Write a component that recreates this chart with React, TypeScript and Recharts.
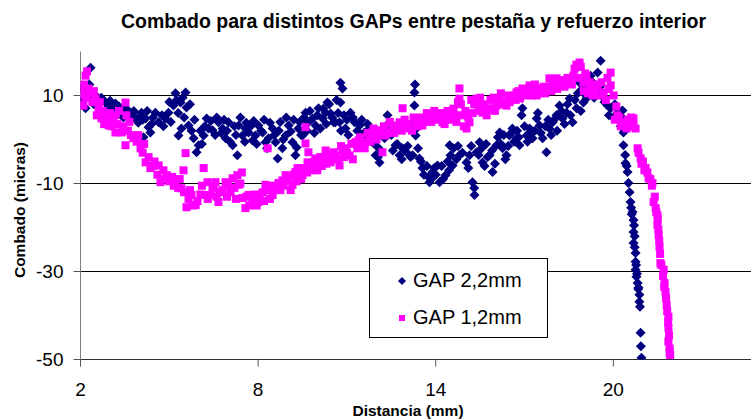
import { ScatterChart, Scatter, XAxis, YAxis, CartesianGrid } from 'recharts'

// GAP 2,2mm (navy diamonds): [distancia, combado]
const gap22: [number, number][] = [
  [2.34, 16.3], [2.03, 11.6], [2.17, 7.1], [2.37, 9.3], [2.61, 8.4], [2.84, 8.4], [3.05, 7.7], [3.18, 8.2], [3.28, 6.6], [3.39, 6.1],
  [3.62, 5.5], [3.86, 5.0], [4.06, 6.1], [4.2, 4.8], [4.3, 2.8], [4.13, 0.5], [4.36, 1.6], [4.53, 6.1], [4.64, 3.9], [4.87, 4.8],
  [4.97, 6.1], [5.14, 7.7], [5.21, 10.5], [5.38, 8.4], [5.55, 10.7], [5.58, 7.3], [5.31, 0.9], [5.41, 2.5], [5.65, 3.2], [5.82, 0.3],
  [5.92, -2.9], [5.99, -1.3], [6.16, 0.9], [6.26, 4.8], [6.32, 2.5], [6.66, 3.9], [6.9, 0.3], [7.14, -1.3], [7.3, -3.6], [7.34, 3.2],
  [7.47, 0.9], [7.68, 1.6], [7.91, 0.9], [8.01, 3.2], [8.25, -0.6], [8.49, 2.5], [8.59, -0.6], [8.66, -4.3], [8.82, -2.0], [9.03, 3.2],
  [9.16, -0.6], [9.26, -3.6], [9.5, 0.9], [9.6, 6.1], [9.7, 3.9], [9.94, 3.2], [10.04, 7.1], [10.18, 4.8], [10.34, 8.4], [10.45, 5.9],
  [10.55, 3.9], [10.61, 3.9], [10.78, 12.9], [10.85, 11.6], [10.78, 8.4], [10.75, 3.9], [10.95, 2.5], [11.12, 6.1], [11.26, 3.9], [11.43, 3.2],
  [11.59, 1.6], [11.76, 2.5], [11.86, -0.6], [11.97, -3.6], [12.1, -5.2], [12.27, 0.3], [12.37, 5.5], [12.44, 3.9], [12.64, -1.3], [12.78, -3.6],
  [12.88, -2.0], [13.11, -3.6], [13.28, 10.7], [13.28, 7.7], [13.22, 3.9], [13.32, 0.9], [13.22, -3.6], [13.45, -4.3], [13.55, -6.5], [13.79, -9.7],
  [13.89, -7.4], [14.06, -5.9], [14.13, -9.7], [14.33, -8.1], [14.47, -1.3], [14.5, -3.6], [14.57, -5.9], [14.8, -3.6], [15.04, -5.2], [15.14, -3.6],
  [15.24, -9.7], [15.31, -12.6], [15.38, -2.9], [15.48, -0.6], [15.58, -5.2], [15.82, -3.6], [15.92, -7.4], [16.05, -1.3], [16.16, 1.6], [16.26, -2.0],
  [16.39, -3.6], [16.49, 0.9], [16.59, 2.5], [16.73, 0.3], [16.83, -1.3], [16.9, 5.5], [16.93, 7.1], [17.07, 0.9], [17.17, 2.5], [17.27, 0.3],
  [17.41, 4.8], [17.51, 3.2], [17.61, 0.3], [17.74, -2.9], [17.84, 2.5], [17.95, 3.9], [18.08, 5.5], [18.18, 7.7], [18.28, 4.8], [18.42, 6.1],
  [18.52, 9.3], [18.62, 3.9], [18.76, 7.1], [18.86, 12.9], [18.96, 11.6], [19.09, 9.3], [18.99, 8.4], [19.13, 12.3], [19.23, 14.5], [19.47, 15.2],
  [19.57, 17.9], [19.8, 7.7], [19.91, 7.1], [20.14, 6.1], [20.31, 6.6], [20.34, 3.9], [20.34, 1.6], [20.34, -1.3], [20.41, -5.4], [20.48, -7.4],
  [20.51, -9.9], [20.58, -14.2], [20.65, -16.5], [20.68, -18.3], [20.68, -21.0], [20.68, -23.5], [20.75, -25.8], [20.75, -27.8], [20.75, -29.6], [20.78, -31.2],
  [20.82, -32.6], [20.85, -33.7], [20.88, -35.3], [20.88, -36.9], [20.92, -43.9], [20.95, -49.6],
  [6.46, 2.1], [6.8, 2.5], [7.0, 3.9], [7.57, 2.5], [7.81, -0.2], [8.15, 1.6], [8.35, 0.3], [8.93, 0.9], [9.36, 2.5], [9.84, 4.8],
  [10.28, 6.1], [2.14, 9.3], [2.51, 10.0], [2.78, 8.9], [3.49, 6.6], [3.76, 6.1], [3.96, 4.8],
  [2.05, 9.0], [2.2, 10.5], [2.3, 12.5], [2.45, 8.0], [2.7, 9.5], [2.9, 7.0], [3.0, 8.8], [3.1, 6.5], [3.3, 7.5], [3.45, 5.0],
  [3.55, 7.0], [3.7, 4.5], [3.8, 6.5], [3.95, 3.8], [4.1, 4.5], [4.25, 6.5], [4.4, 3.5], [4.45, 5.0],
  [4.75, 5.5], [4.8, 3.0], [5.0, 8.5], [5.05, 4.0], [5.25, 9.0], [5.3, 6.0], [5.45, 9.5], [5.5, 5.0], [5.7, 8.0], [5.75, 2.0],
  [5.85, 4.5], [6.05, 2.0], [6.1, -1.0], [6.2, 3.0],
  [6.4, 4.2], [6.55, 1.0], [6.6, 5.0], [6.75, 1.5], [6.85, 4.5], [6.95, 2.0], [7.05, -0.5], [7.2, 3.0], [7.25, 1.0], [7.4, 5.0],
  [7.55, -0.5], [7.6, 3.8], [7.75, 3.0], [7.85, 4.2], [7.95, -1.0], [8.1, 2.0], [8.2, 4.5], [8.3, -2.0], [8.4, 3.8], [8.55, 1.0],
  [8.7, 2.0], [8.75, 4.0], [8.85, 0.0], [8.95, 5.0], [9.1, 1.8], [9.2, 4.5], [9.3, -1.8], [9.4, 4.0], [9.45, 1.0], [9.55, 5.0],
  [9.65, 2.0], [9.75, 6.5], [9.9, 1.5], [10.0, 5.5], [10.1, 2.5], [10.2, 7.0], [10.3, 3.5], [10.4, 8.0], [10.5, 5.0],
  [10.65, 9.0], [10.7, 6.0], [10.8, 2.0], [10.9, 5.5], [11.0, 4.5], [11.05, 1.0], [11.2, 5.0], [11.35, 2.0], [11.5, 4.5], [11.65, 0.5],
  [11.7, 3.5], [11.9, 1.0], [12.0, -1.5], [12.05, -4.0], [12.15, -2.5], [12.3, 2.5], [12.5, 1.0], [12.55, -2.5],
  [12.7, -1.0], [12.85, -4.5], [12.95, -2.5], [13.05, -1.5], [13.15, -4.0], [13.3, 12.5], [13.35, 2.5], [13.4, -2.0], [13.5, -5.0], [13.6, -8.0],
  [13.7, -6.0], [13.75, -8.5], [13.85, -9.0], [13.95, -6.5], [14.0, -8.0], [14.2, -6.0], [14.25, -9.0], [14.4, -5.0], [14.45, -7.0], [14.6, -2.0],
  [14.7, -4.5], [14.75, -1.5], [14.9, -3.0],
  [15.1, -6.5], [15.2, -1.5], [15.3, -11.0], [15.45, -3.5], [15.55, -2.0], [15.65, -6.0], [15.7, -1.0], [15.75, -4.0], [15.9, -2.5], [16.0, -5.5],
  [16.1, 0.5], [16.2, -1.0], [16.3, 1.0], [16.35, -4.5], [16.45, -1.5], [16.55, 1.5], [16.65, -0.5], [16.75, 2.0], [16.8, 0.5], [17.0, 3.0],
  [17.1, -0.5], [17.2, 1.5], [17.35, 2.0], [17.45, 6.0], [17.55, 1.5], [17.7, 3.0], [17.8, 4.5], [17.9, 1.0], [18.0, 4.5], [18.1, 2.0],
  [18.25, 6.5], [18.35, 3.5], [18.45, 8.0], [18.55, 5.5], [18.7, 9.0], [18.8, 10.5], [18.9, 6.5], [19.0, 10.5], [19.05, 13.5], [19.15, 11.0],
  [19.3, 13.0], [19.35, 9.5], [19.4, 11.0], [19.55, 12.0], [19.6, 10.0], [19.7, 8.5],
  [19.85, 5.5], [20.0, 5.0], [20.05, 8.0], [20.2, 6.5], [20.25, 3.0], [20.3, 5.0], [20.4, -3.5], [20.45, -6.0], [20.55, -12.0], [20.6, -15.5],
  [20.62, -17.0], [20.7, -19.5], [20.72, -22.0], [20.72, -24.5], [20.77, -28.5], [20.8, -30.5], [20.84, -34.0], [20.9, -38.0], [20.93, -47.0],
]

// GAP 1,2mm (magenta squares): [distancia, combado]
const gap12: [number, number][] = [
  [2.17, 14.5], [2.27, 11.6], [2.03, 10.0], [2.1, 7.7], [2.51, 9.3], [2.61, 7.1], [2.71, 4.8], [2.95, 3.2], [3.18, 5.5], [3.52, 8.4],
  [3.55, 5.5], [3.39, 1.6], [3.18, 1.6], [3.52, -1.3], [3.79, 0.3], [4.03, -2.0], [4.2, -5.2], [4.36, -6.5], [4.64, -5.9], [4.7, -9.7],
  [4.91, -8.1], [5.21, -9.7], [5.48, -7.0], [5.55, -3.1], [5.41, -11.1], [5.75, -12.6], [5.89, -14.9], [5.58, -15.4], [6.16, -6.5], [6.22, -12.6],
  [6.29, -9.7], [6.46, -11.1], [6.56, -9.7], [6.66, -14.2], [6.9, -9.7], [7.07, -12.0], [7.3, -8.1], [7.34, -10.3], [7.47, -13.3], [7.57, -15.6],
  [7.81, -14.2], [8.01, -14.2], [8.25, -10.3], [8.49, -12.6], [8.69, -9.9], [8.93, -8.1], [9.16, -10.3], [9.33, -6.5], [9.5, -8.1], [9.67, -5.2],
  [9.7, -2.9], [9.6, -0.9], [9.6, 2.8], [8.32, -2.0], [9.84, -6.5], [10.04, -5.9], [10.21, -4.3], [10.45, -5.2], [10.55, -2.9], [10.61, -3.6],
  [10.75, -5.9], [10.95, -2.0], [11.09, -3.6], [11.29, -0.6], [11.53, -1.3], [11.76, 0.3], [11.97, 0.9], [12.2, -2.9], [12.3, 0.9], [12.54, 3.2],
  [12.78, 3.9], [12.88, 7.1], [13.11, 2.5], [13.32, 3.9], [13.55, 3.2], [13.79, 5.5], [13.99, 4.8], [14.23, 3.9], [14.47, 5.5], [14.67, 5.5],
  [14.8, 11.6], [14.91, 5.5], [15.04, 2.5], [15.38, 9.3], [15.58, 6.1], [15.92, 7.1], [16.16, 9.3], [16.39, 7.7], [16.73, 10.7], [16.93, 11.6],
  [17.17, 12.3], [17.41, 10.0], [17.61, 11.6], [17.84, 13.9], [18.08, 13.9], [18.28, 12.9], [18.52, 12.9], [18.69, 16.1], [18.86, 17.5], [19.09, 14.5],
  [18.99, 12.9], [19.23, 11.6], [19.47, 12.3], [19.67, 10.7], [19.91, 15.2], [19.91, 12.3], [20.01, 10.0], [20.14, 5.5], [20.34, 3.9], [20.68, 4.8],
  [20.68, 3.2], [20.82, -2.0], [20.92, -4.3], [21.09, -6.5], [21.19, -8.8], [21.32, -9.9], [21.36, -14.2], [21.43, -15.6], [21.49, -17.2], [21.49, -19.4],
  [21.53, -21.7], [21.56, -24.4], [21.59, -28.1], [21.7, -29.6], [21.73, -32.6], [21.76, -34.6], [21.8, -37.6], [21.86, -40.3], [21.86, -42.8], [21.86, -45.9],
  [21.9, -48.4],
  [14.8, 9.3], [15.14, 3.9], [15.48, 7.7], [15.72, 5.5], [16.05, 7.7], [16.26, 8.4], [16.59, 9.3], [16.83, 9.3], [17.07, 10.7], [17.27, 11.6],
  [17.51, 11.6], [17.74, 11.8], [17.95, 12.9], [18.18, 12.3], [18.42, 12.9],
  [10.85, -2.5], [11.39, -0.2], [11.63, -0.6], [11.86, 1.6], [12.1, 2.1], [12.64, 2.5], [12.98, 3.2], [13.42, 4.8], [13.65, 4.3], [13.89, 5.5],
  [14.33, 4.8], [14.57, 6.1],
  [6.39, -12.6], [6.8, -11.5], [7.14, -8.8], [7.68, -12.6], [8.15, -12.0], [8.35, -11.5], [8.82, -9.3], [9.03, -8.8], [9.26, -7.4], [9.94, -4.3],
  [10.28, -2.5],
  [2.0, 11.5], [2.05, 8.0], [2.12, 12.5], [2.2, 9.5], [2.22, 15.5], [2.3, 10.5], [2.4, 8.5], [2.45, 11.0], [2.55, 5.5], [2.65, 8.5],
  [2.75, 6.5], [2.8, 3.5], [2.9, 5.0], [3.0, 6.0], [3.05, 3.0], [3.1, 4.5], [3.25, 3.5], [3.3, 6.5], [3.45, 3.0], [3.6, 2.0],
  [3.65, 4.0], [3.7, 1.0], [3.9, -0.5], [3.95, 1.0],
  [4.1, -3.0], [4.15, -1.0], [4.3, -4.0], [4.45, -6.0], [4.5, -5.0], [4.6, -8.0], [4.8, -7.0], [4.85, -9.0], [5.0, -9.5], [5.1, -8.5],
  [5.15, -10.5], [5.3, -11.0], [5.35, -9.0], [5.5, -12.0], [5.65, -13.5], [5.7, -11.5], [5.8, -15.0], [5.95, -14.0], [6.05, -12.5], [6.1, -10.5],
  [6.3, -13.5], [6.5, -10.5], [6.6, -13.0], [6.7, -12.0], [6.95, -13.0], [7.0, -10.5], [7.2, -11.0], [7.25, -13.5], [7.4, -10.0], [7.45, -7.5],
  [7.6, -13.0], [7.7, -15.0], [7.9, -12.5], [7.95, -15.0], [8.05, -13.0], [8.2, -14.0], [8.3, -11.0], [8.4, -13.5], [8.45, -10.5], [8.6, -11.5],
  [8.75, -11.5], [8.85, -10.5], [9.0, -9.5], [9.1, -11.5], [9.2, -8.0], [9.3, -9.5], [9.4, -7.5], [9.45, -9.0], [9.55, -6.5], [9.65, -7.5],
  [9.75, -5.5], [9.8, -7.0], [9.9, -5.0], [10.0, -7.0], [10.1, -4.0], [10.15, -6.0], [10.3, -5.5], [10.35, -3.5], [10.5, -4.5],
  [10.7, -4.5], [10.8, -1.5], [10.9, -4.0], [11.0, -3.0], [11.15, -1.0], [11.2, -4.5], [11.35, -2.0], [11.45, 0.5], [11.6, -2.0], [11.7, 1.5],
  [11.8, -0.5], [11.9, 2.5], [12.0, 0.0], [12.15, 1.0], [12.25, 3.0], [12.4, 1.5], [12.45, 4.0], [12.6, 1.5], [12.7, 3.0], [12.85, 2.0],
  [12.95, 4.5], [13.05, 3.5], [13.2, 2.0], [13.25, 5.0], [13.4, 3.0], [13.5, 5.0], [13.6, 4.0], [13.7, 6.0], [13.85, 4.0], [13.95, 6.5],
  [14.1, 4.5], [14.15, 6.0], [14.3, 3.5], [14.4, 6.5], [14.55, 4.5], [14.6, 7.0], [14.7, 4.0], [14.75, 8.5],
  [14.85, 8.0], [14.95, 3.0], [15.0, 6.5], [15.1, 5.0], [15.2, 9.0], [15.25, 6.0], [15.3, 8.0], [15.45, 6.5], [15.5, 9.5], [15.65, 8.0],
  [15.75, 7.0], [15.85, 9.0], [15.95, 9.5], [16.0, 6.5], [16.1, 8.0], [16.2, 10.5], [16.3, 8.0], [16.45, 10.0], [16.5, 8.5], [16.65, 10.0],
  [16.7, 9.0], [16.8, 11.0], [16.85, 9.5], [17.0, 10.0], [17.1, 11.0], [17.25, 10.0], [17.35, 12.5], [17.45, 11.0], [17.55, 10.5], [17.65, 12.0],
  [17.7, 10.5], [17.85, 12.0], [17.9, 11.0], [18.0, 12.5], [18.1, 11.5], [18.2, 13.5], [18.35, 12.0], [18.45, 14.0], [18.6, 12.5], [18.65, 14.5],
  [18.75, 17.0], [18.8, 14.0], [18.9, 16.5], [19.0, 11.0], [19.05, 15.0], [19.15, 10.5], [19.2, 13.0], [19.3, 10.0], [19.35, 12.5], [19.4, 11.0],
  [19.55, 10.0], [19.6, 13.0], [19.75, 9.0], [19.8, 14.0], [19.85, 11.5],
  [20.05, 4.5], [20.1, 7.5], [20.2, 5.0], [20.25, 3.0], [20.4, 4.0], [20.45, 2.5], [20.5, 4.5], [20.55, 3.0], [20.6, 5.0], [20.75, 2.5],
  [20.85, -3.0], [20.95, -5.5], [21.0, -5.0], [21.05, -7.0], [21.15, -7.5], [21.25, -9.0], [21.3, -10.5], [21.4, -13.0], [21.45, -16.5], [21.5, -18.0],
  [21.52, -20.5], [21.55, -23.0], [21.58, -26.0], [21.62, -28.5], [21.68, -31.0], [21.72, -33.5], [21.78, -36.0], [21.82, -39.0], [21.85, -41.5], [21.88, -44.5],
  [21.9, -47.5], [21.92, -49.0],
]

const xTicks = [2, 8, 14, 20]
const yTicks = [-50, -30, -10, 10]

const NAVY = '#000080'
const MAGENTA = '#ff00ff'
const FONT = '"Liberation Sans", Arial, sans-serif'

const toRows = (pts: [number, number][]) => pts.map(([x, y]) => ({ x, y }))

function Diamond(props: any) {
  const { cx, cy } = props
  const r = 5
  return <polygon points={`${cx},${cy - r} ${cx + r},${cy} ${cx},${cy + r} ${cx - r},${cy}`} fill={NAVY} />
}

function Square(props: any) {
  const { cx, cy } = props
  return <rect x={cx - 4} y={cy - 4} width={8} height={8} fill={MAGENTA} />
}

export default function App() {
  const tick = { fontSize: 19, fill: '#000', fontFamily: FONT }
  return (
    <div style={{ position: 'absolute', left: 0, top: 0, width: 751, height: 419, background: '#fff', fontFamily: FONT }}>
      <ScatterChart width={751} height={419} margin={{ top: 51.5, right: 0, bottom: 0.5, left: 0.5 }}>
        <CartesianGrid vertical={false} stroke="#000" horizontalValues={yTicks} />
        <XAxis
          type="number" dataKey="x" domain={[2, 24.65]} ticks={xTicks} allowDataOverflow
          height={59} tickSize={7} tickMargin={16} tick={tick}
          axisLine={{ stroke: '#333' }} tickLine={{ stroke: '#555' }}
        />
        <YAxis
          type="number" dataKey="y" domain={[-50, 20]} ticks={yTicks} allowDataOverflow
          width={80} tickSize={7} tickMargin={10} tick={tick}
          axisLine={{ stroke: '#808080' }} tickLine={{ stroke: '#555' }}
        />
        <Scatter data={toRows(gap22)} shape={Diamond} isAnimationActive={false} />
        <Scatter data={toRows(gap12)} shape={Square} isAnimationActive={false} />
      </ScatterChart>

      <div style={{ position: 'absolute', left: 0, width: 827, top: 10, textAlign: 'center', fontWeight: 'bold', fontSize: 19.5 }}>
        Combado para distintos GAPs entre pestaña y refuerzo interior
      </div>
      <div style={{ position: 'absolute', left: 300, width: 216, top: 402, textAlign: 'center', fontWeight: 'bold', fontSize: 15.5 }}>
        Distancia (mm)
      </div>
      <div style={{
        position: 'absolute', left: 20, top: 210, width: 200, marginLeft: -100, marginTop: -10, height: 20,
        textAlign: 'center', fontWeight: 'bold', fontSize: 15.5, transform: 'rotate(-90deg)', lineHeight: '20px',
      }}>
        Combado (micras)
      </div>

      <div style={{
        position: 'absolute', left: 369, top: 258, width: 177, height: 78, background: '#fff',
        border: '1px solid #000', fontSize: 20,
      }}>
        <svg width={12} height={12} style={{ position: 'absolute', left: 26, top: 16 }}>
          <polygon points="6,2 10,6 6,10 2,6" fill={NAVY} />
        </svg>
        <div style={{ position: 'absolute', left: 43, top: 9, lineHeight: '24px' }}>GAP 2,2mm</div>
        <svg width={12} height={12} style={{ position: 'absolute', left: 26, top: 53 }}>
          <rect x={3} y={3} width={6} height={6} fill={MAGENTA} />
        </svg>
        <div style={{ position: 'absolute', left: 43, top: 46, lineHeight: '24px' }}>GAP 1,2mm</div>
      </div>
    </div>
  )
}
